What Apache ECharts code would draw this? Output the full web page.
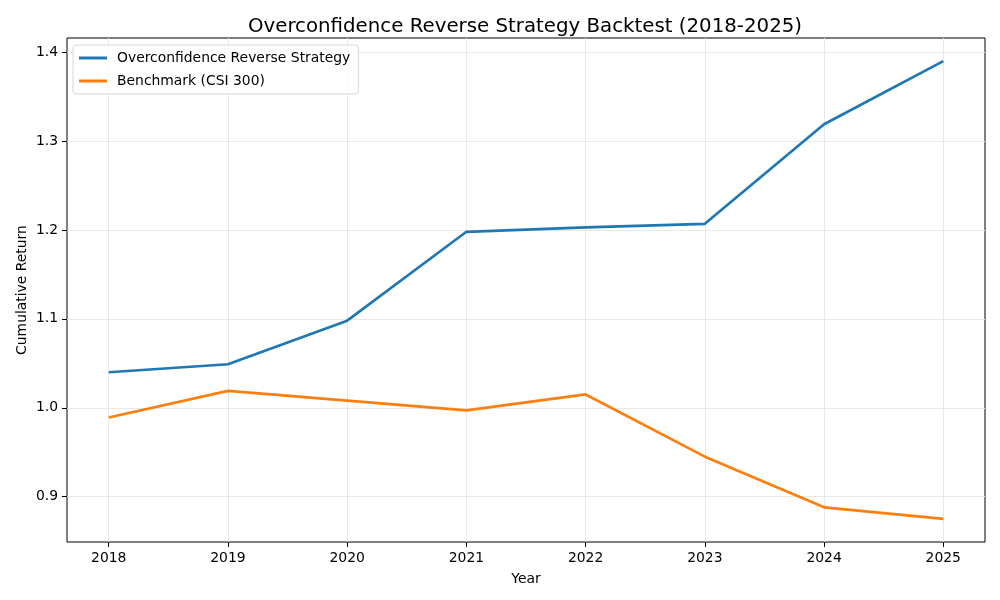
<!DOCTYPE html>
<html>
<head>
<meta charset="utf-8">
<script src="https://cdn.jsdelivr.net/npm/echarts@6/dist/echarts.min.js"></script>
<style>
html, body { margin: 0; padding: 0; background: #fff; }
#chart { width: 1000px; height: 600px; }
</style>
</head>
<body>
<div id="chart"></div>
<script>
// data
var years = [2018, 2019, 2020, 2021, 2022, 2023, 2024, 2025];
var strategy = [1.040, 1.049, 1.098, 1.198, 1.203, 1.207, 1.319, 1.390];
var benchmark = [0.989, 1.019, 1.008, 0.997, 1.015, 0.945, 0.888, 0.875];
var yTicks = [0.9, 1.0, 1.1, 1.2, 1.3, 1.4];
var seriesNames = ['Overconfidence Reverse Strategy', 'Benchmark (CSI 300)'];

var font = 'DejaVu Sans';

function pairs(vals) {
	return years.map(function (y, i) { return [y, vals[i]]; });
}

var chart = echarts.init(document.getElementById('chart'), null, { renderer: 'canvas' });
var option = {
	backgroundColor: '#fff',
	animation: false,
	title: {
		text: 'Overconfidence Reverse Strategy Backtest (2018-2025)',
		left: 520,
		textAlign: 'center',
		top: 12,
		textStyle: { fontFamily: font, fontSize: 19.8, fontWeight: 'normal', color: '#000' }
	},
	legend: {
		left: 73,
		top: 45,
		orient: 'vertical',
		itemWidth: 28,
		itemHeight: 3,
		itemGap: 9,
		icon: 'rect',
		padding: [6, 8, 6, 6],
		borderColor: '#d5d5d5',
		borderWidth: 1,
		borderRadius: 3,
		backgroundColor: 'rgba(255,255,255,0.8)',
		textStyle: { fontFamily: font, fontSize: 13.9, color: '#000', padding: [0, 0, 0, 5] },
		data: seriesNames
	},
	grid: {
		left: 67, right: 15, top: 38, bottom: 58,
		show: true, borderColor: '#000', borderWidth: 1
	},
	xAxis: {
		type: 'value',
		min: 2017.65,
		max: 2025.35,
		name: 'Year',
		nameLocation: 'middle',
		nameGap: 30,
		nameMoveOverlap: false,
		nameTextStyle: { fontFamily: font, fontSize: 13.9, color: '#000' },
		axisLine: { show: false },
		axisTick: { show: true, length: 5, lineStyle: { color: '#000' }, customValues: years },
		axisLabel: {
			fontFamily: font, fontSize: 13.9, color: '#000', margin: 9,
			customValues: years,
			formatter: function (v) { return String(v); }
		},
		splitLine: { show: true, lineStyle: { color: '#e8e8e8', width: 1 } }
	},
	yAxis: {
		type: 'value',
		min: 0.849,
		max: 1.416,
		name: 'Cumulative Return',
		nameLocation: 'middle',
		nameGap: 38,
		nameMoveOverlap: false,
		nameTextStyle: { fontFamily: font, fontSize: 13.9, color: '#000' },
		axisLine: { show: false },
		axisTick: { show: true, length: 5, lineStyle: { color: '#000' }, customValues: yTicks },
		axisLabel: {
			fontFamily: font, fontSize: 13.9, color: '#000', margin: 9,
			customValues: yTicks,
			formatter: function (v) { return v.toFixed(1); }
		},
		splitLine: { show: true, lineStyle: { color: '#e8e8e8', width: 1 } }
	},
	series: [
		{
			name: seriesNames[0],
			type: 'line',
			data: pairs(strategy),
			showSymbol: false,
			color: '#1f77b4',
			lineStyle: { width: 2.7, color: '#1f77b4' }
		},
		{
			name: seriesNames[1],
			type: 'line',
			data: pairs(benchmark),
			showSymbol: false,
			color: '#ff7f0e',
			lineStyle: { width: 2.7, color: '#ff7f0e' }
		}
	]
};
chart.setOption(option, true);
</script>
</body>
</html>
